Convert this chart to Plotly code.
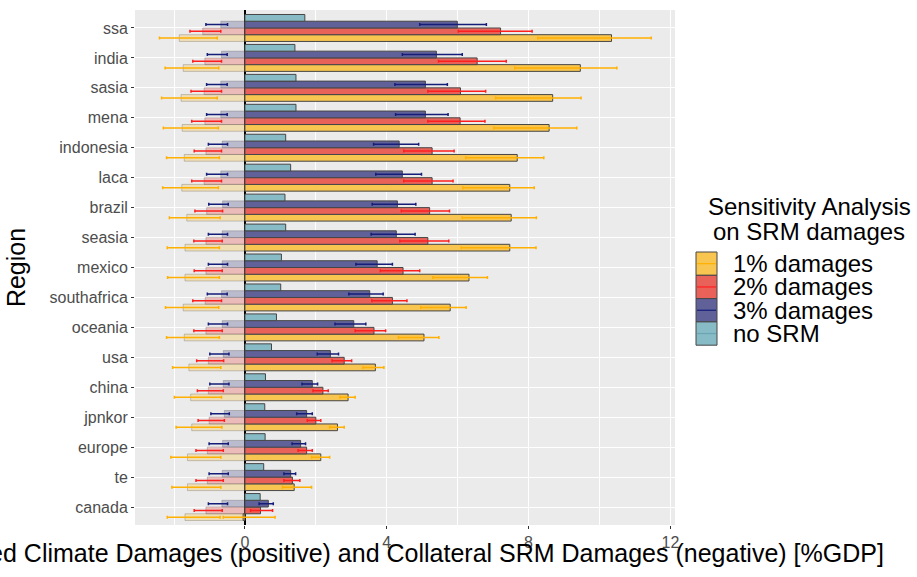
import plotly.graph_objects as go

# Regions, listed top to bottom as they appear on the chart
regions = ["ssa", "india", "sasia", "mena", "indonesia", "laca", "brazil", "seasia",
           "mexico", "southafrica", "oceania", "usa", "china", "jpnkor", "europe", "te", "canada"]

# Avoided climate damages without SRM [%GDP]
no_srm = [1.69, 1.41, 1.44, 1.44, 1.15, 1.29, 1.13, 1.15, 1.03, 1.01, 0.89, 0.75, 0.58, 0.56, 0.57, 0.53, 0.43]

# Avoided climate damages (positive) with uncertainty range
d3 = [5.99, 5.40, 5.09, 5.09, 4.35, 4.44, 4.30, 4.27, 3.73, 3.52, 3.07, 2.41, 1.90, 1.74, 1.57, 1.29, 0.66]
d3_lo = [4.93, 4.44, 4.23, 4.25, 3.63, 3.69, 3.59, 3.56, 3.13, 2.93, 2.54, 2.04, 1.61, 1.46, 1.33, 1.10, 0.40]
d3_hi = [6.81, 6.13, 5.71, 5.73, 4.90, 4.98, 4.82, 4.80, 4.16, 3.90, 3.41, 2.64, 2.05, 1.90, 1.71, 1.43, 0.80]

d2 = [7.21, 6.55, 6.08, 6.07, 5.28, 5.28, 5.21, 5.16, 4.46, 4.16, 3.64, 2.80, 2.20, 2.00, 1.74, 1.34, 0.44]
d2_lo = [6.02, 5.46, 5.16, 5.16, 4.48, 4.48, 4.41, 4.37, 3.82, 3.58, 3.11, 2.46, 1.92, 1.76, 1.50, 1.10, 0.16]
d2_hi = [8.10, 7.37, 6.79, 6.77, 5.90, 5.87, 5.77, 5.75, 4.93, 4.57, 3.97, 3.01, 2.35, 2.14, 1.90, 1.55, 0.78]

d1 = [10.34, 9.46, 8.68, 8.58, 7.68, 7.47, 7.51, 7.47, 6.32, 5.79, 5.05, 3.68, 2.91, 2.61, 2.14, 1.39, -0.05]
d1_lo = [8.26, 7.61, 7.07, 7.02, 6.23, 6.15, 6.13, 6.10, 5.30, 4.96, 4.33, 3.33, 2.68, 2.39, 1.88, 1.06, -0.61]
d1_hi = [11.46, 10.49, 9.48, 9.36, 8.43, 8.16, 8.22, 8.21, 6.84, 6.24, 5.47, 3.92, 3.11, 2.80, 2.39, 1.88, 0.85]

# Collateral SRM damages (negative) with uncertainty range
d3_neg = [-0.68, -0.66, -0.68, -0.68, -0.64, -0.68, -0.63, -0.64, -0.64, -0.66, -0.64, -0.61, -0.61, -0.58, -0.63, -0.64, -0.65]
d3_neg_lo = [-1.10, -1.06, -1.08, -1.08, -1.03, -1.08, -1.02, -1.03, -1.03, -1.06, -1.03, -0.99, -0.99, -0.96, -1.01, -1.01, -1.03]
d3_neg_hi = [-0.49, -0.50, -0.50, -0.50, -0.49, -0.49, -0.47, -0.49, -0.49, -0.50, -0.49, -0.45, -0.45, -0.44, -0.47, -0.47, -0.49]

d2_neg = [-1.19, -1.13, -1.15, -1.13, -1.10, -1.15, -1.08, -1.10, -1.10, -1.12, -1.10, -1.03, -1.03, -1.01, -1.06, -1.06, -1.10]
d2_neg_lo = [-1.55, -1.47, -1.52, -1.50, -1.43, -1.50, -1.41, -1.44, -1.43, -1.47, -1.44, -1.36, -1.34, -1.32, -1.38, -1.38, -1.43]
d2_neg_hi = [-0.68, -0.66, -0.66, -0.66, -0.66, -0.66, -0.63, -0.64, -0.64, -0.66, -0.64, -0.60, -0.61, -0.58, -0.61, -0.61, -0.64]

d1_neg = [-1.85, -1.74, -1.80, -1.77, -1.71, -1.78, -1.64, -1.69, -1.69, -1.74, -1.71, -1.58, -1.53, -1.50, -1.62, -1.62, -1.69]
d1_neg_lo = [-2.41, -2.25, -2.35, -2.30, -2.21, -2.32, -2.13, -2.19, -2.18, -2.24, -2.21, -2.04, -1.99, -1.94, -2.09, -2.06, -2.19]
d1_neg_hi = [-0.78, -0.74, -0.78, -0.75, -0.72, -0.75, -0.70, -0.72, -0.72, -0.74, -0.72, -0.68, -0.66, -0.65, -0.68, -0.68, -0.70]

series_names = ["1% damages", "2% damages", "3% damages", "no SRM"]
legend_title = ["Sensitivity Analysis", "on SRM damages"]
x_ticks = [0, 4, 8, 12]
x_title = "Avoided Climate Damages (positive) and Collateral SRM Damages (negative) [%GDP]"

FONT = "Liberation Sans, Arial, sans-serif"
BAR_W = 0.225

W, H = 917, 577
M_L, M_R, M_T, M_B = 135, 242, 10, 52

styles = {
    "1% damages": dict(fill="rgb(248,197,80)", neg="rgba(248,197,80,0.35)", err="rgb(255,176,0)"),
    "2% damages": dict(fill="rgb(232,98,90)", neg="rgba(232,98,90,0.35)", err="rgb(255,30,30)"),
    "3% damages": dict(fill="rgb(96,97,153)", neg="rgba(96,97,153,0.35)", err="rgb(20,30,120)"),
    "no SRM": dict(fill="rgb(135,187,197)", neg=None, err="rgb(105,165,180)"),
}
offsets = {"1% damages": -0.45, "2% damages": -0.225, "3% damages": 0.0, "no SRM": 0.225}
OUTLINE = "rgb(70,70,70)"


def errs(v, lo, hi):
    plus = [round(h - a, 4) for a, h in zip(v, hi)]
    minus = [round(a - l, 4) for a, l in zip(v, lo)]
    return plus, minus


def px(x):
    """Pixel column -> paper x."""
    return (x - M_L) / (W - M_L - M_R)


def py(y):
    """Pixel row -> paper y."""
    return (H - M_B - y) / (H - M_T - M_B)


fig = go.Figure()

negatives = {
    "1% damages": (d1_neg, d1_neg_lo, d1_neg_hi),
    "2% damages": (d2_neg, d2_neg_lo, d2_neg_hi),
    "3% damages": (d3_neg, d3_neg_lo, d3_neg_hi),
}
positives = {
    "1% damages": (d1, d1_lo, d1_hi),
    "2% damages": (d2, d2_lo, d2_hi),
    "3% damages": (d3, d3_lo, d3_hi),
}

# Faded bars for collateral SRM damages
for name, (v, lo, hi) in negatives.items():
    st = styles[name]
    plus, minus = errs(v, lo, hi)
    fig.add_trace(go.Bar(
        y=regions, x=v, orientation="h", name=name, showlegend=False,
        width=BAR_W, offset=offsets[name],
        marker=dict(color=st["neg"], line=dict(color="rgba(60,60,60,0.25)", width=1)),
        error_x=dict(type="data", symmetric=False, array=plus, arrayminus=minus,
                     color=st["err"], thickness=1.5, width=1.5),
        hoverinfo="skip",
    ))

# Solid bars for avoided climate damages
for name in series_names:
    st = styles[name]
    if name == "no SRM":
        fig.add_trace(go.Bar(
            y=regions, x=no_srm, orientation="h", name=name, showlegend=False,
            width=BAR_W, offset=offsets[name],
            marker=dict(color=st["fill"], line=dict(color=OUTLINE, width=1)),
        ))
        continue
    v, lo, hi = positives[name]
    plus, minus = errs(v, lo, hi)
    fig.add_trace(go.Bar(
        y=regions, x=v, orientation="h", name=name, showlegend=False,
        width=BAR_W, offset=offsets[name],
        marker=dict(color=st["fill"], line=dict(color=OUTLINE, width=1)),
        error_x=dict(type="data", symmetric=False, array=plus, arrayminus=minus,
                     color=st["err"], thickness=1.5, width=1.5),
    ))

# Legend: stacked colour keys with an error-bar stroke, title on two centred lines
shapes, annotations = [], []
KEY_X0, KEY_X1, KEY_TOP, KEY_H = 696, 717, 252, 23.3
for i, line in enumerate(legend_title):
    annotations.append(dict(
        text=line, xref="paper", yref="paper", x=px(809), y=py(206 + 25 * i),
        xanchor="center", yanchor="middle", showarrow=False,
        font=dict(size=24, color="black", family=FONT),
    ))
for i, name in enumerate(series_names):
    st = styles[name]
    y0 = KEY_TOP + KEY_H * i
    y1 = y0 + KEY_H
    shapes.append(dict(type="rect", xref="paper", yref="paper",
                       x0=px(KEY_X0), x1=px(KEY_X1), y0=py(y1), y1=py(y0),
                       fillcolor=st["fill"], line=dict(color=OUTLINE, width=1)))
    shapes.append(dict(type="line", xref="paper", yref="paper",
                       x0=px(KEY_X0 + 1), x1=px(KEY_X1 - 1), y0=py((y0 + y1) / 2), y1=py((y0 + y1) / 2),
                       line=dict(color=st["err"], width=1.2)))
    annotations.append(dict(
        text=name, xref="paper", yref="paper", x=px(731), y=py((y0 + y1) / 2),
        xanchor="left", yanchor="middle", showarrow=False,
        font=dict(size=24, color="black", family=FONT),
    ))

# Horizontal axis title, centred under the panel
annotations.append(dict(
    text=x_title, xref="paper", yref="paper", x=0.5, y=py(553),
    xanchor="center", yanchor="middle", showarrow=False,
    font=dict(size=25, color="black", family=FONT),
))

fig.update_layout(
    width=W, height=H,
    margin=dict(l=M_L, r=M_R, t=M_T, b=M_B),
    barmode="overlay",
    showlegend=False,
    paper_bgcolor="white",
    plot_bgcolor="rgb(235,235,235)",
    font=dict(family=FONT, color="black"),
    shapes=shapes,
    annotations=annotations,
    xaxis=dict(
        range=[-3.1, 12.13],
        tickmode="array", tickvals=x_ticks, ticktext=[str(t) for t in x_ticks],
        tickfont=dict(size=16, color="rgb(77,77,77)"),
        ticks="outside", ticklen=3, tickcolor="rgb(51,51,51)",
        showgrid=True, gridcolor="white", gridwidth=1.2,
        minor=dict(dtick=2, tick0=0, showgrid=True, gridcolor="white", gridwidth=0.6),
        zeroline=True, zerolinecolor="black", zerolinewidth=2,
        showline=False,
    ),
    yaxis=dict(
        categoryorder="array", categoryarray=list(reversed(regions)),
        range=[-0.6, len(regions) - 0.4],
        tickfont=dict(size=16, color="rgb(77,77,77)"),
        ticks="outside", ticklen=3, tickcolor="rgb(51,51,51)",
        showgrid=True, gridcolor="white", gridwidth=1.2,
        showline=False,
        title=dict(text="Region", font=dict(size=25, color="black"), standoff=16),
    ),
)

fig.write_html("out.html")
